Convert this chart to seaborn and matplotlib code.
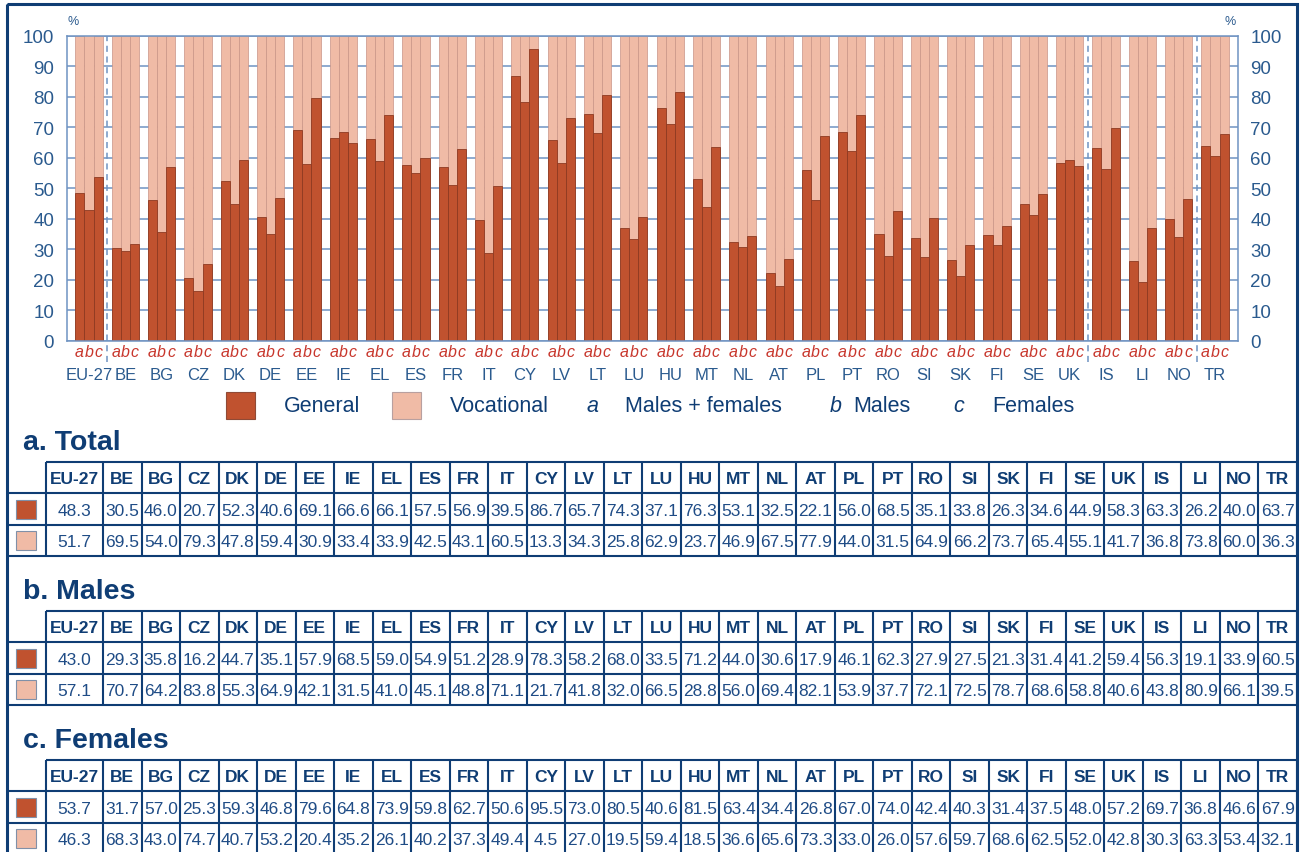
import matplotlib
matplotlib.use("Agg")
import matplotlib.pyplot as plt
import matplotlib.font_manager as fm
from matplotlib.patches import Rectangle
import seaborn as sns
import pandas as pd

countries = ["EU-27", "BE", "BG", "CZ", "DK", "DE", "EE", "IE", "EL", "ES", "FR", "IT",
             "CY", "LV", "LT", "LU", "HU", "MT", "NL", "AT", "PL", "PT", "RO", "SI",
             "SK", "FI", "SE", "UK", "IS", "LI", "NO", "TR"]

general_total = [48.3, 30.5, 46.0, 20.7, 52.3, 40.6, 69.1, 66.6, 66.1, 57.5, 56.9, 39.5,
                 86.7, 65.7, 74.3, 37.1, 76.3, 53.1, 32.5, 22.1, 56.0, 68.5, 35.1, 33.8,
                 26.3, 34.6, 44.9, 58.3, 63.3, 26.2, 40.0, 63.7]
vocational_total = [51.7, 69.5, 54.0, 79.3, 47.8, 59.4, 30.9, 33.4, 33.9, 42.5, 43.1, 60.5,
                    13.3, 34.3, 25.8, 62.9, 23.7, 46.9, 67.5, 77.9, 44.0, 31.5, 64.9, 66.2,
                    73.7, 65.4, 55.1, 41.7, 36.8, 73.8, 60.0, 36.3]

general_males = [43.0, 29.3, 35.8, 16.2, 44.7, 35.1, 57.9, 68.5, 59.0, 54.9, 51.2, 28.9,
                 78.3, 58.2, 68.0, 33.5, 71.2, 44.0, 30.6, 17.9, 46.1, 62.3, 27.9, 27.5,
                 21.3, 31.4, 41.2, 59.4, 56.3, 19.1, 33.9, 60.5]
vocational_males = [57.1, 70.7, 64.2, 83.8, 55.3, 64.9, 42.1, 31.5, 41.0, 45.1, 48.8, 71.1,
                    21.7, 41.8, 32.0, 66.5, 28.8, 56.0, 69.4, 82.1, 53.9, 37.7, 72.1, 72.5,
                    78.7, 68.6, 58.8, 40.6, 43.8, 80.9, 66.1, 39.5]

general_females = [53.7, 31.7, 57.0, 25.3, 59.3, 46.8, 79.6, 64.8, 73.9, 59.8, 62.7, 50.6,
                   95.5, 73.0, 80.5, 40.6, 81.5, 63.4, 34.4, 26.8, 67.0, 74.0, 42.4, 40.3,
                   31.4, 37.5, 48.0, 57.2, 69.7, 36.8, 46.6, 67.9]
vocational_females = [46.3, 68.3, 43.0, 74.7, 40.7, 53.2, 20.4, 35.2, 26.1, 40.2, 37.3, 49.4,
                      4.5, 27.0, 19.5, 59.4, 18.5, 36.6, 65.6, 73.3, 33.0, 26.0, 57.6, 59.7,
                      68.6, 62.5, 52.0, 42.8, 30.3, 63.3, 53.4, 32.1]

group_letters = ["a", "b", "c"]
group_names = ["Males + females", "Males", "Females"]
table_titles = ["a. Total", "b. Males", "c. Females"]
series_names = ["General", "Vocational"]
separators_after = ["EU-27", "UK", "NO"]

DARK = "#C0522F"
LIGHT = "#F0BBA6"
NAVY = "#0F3D74"
TXT = "#2A5A8E"
VAL = "#1F4C86"
GRID = "#6F93C2"
RED = "#C8372D"


def pick_font(*names):
    for name in names:
        try:
            fm.findfont(fm.FontProperties(family=name), fallback_to_default=False)
            return name
        except ValueError:
            continue
    return "DejaVu Sans"


NARROW = pick_font("Liberation Sans Narrow", "Liberation Sans")
SANS = pick_font("Liberation Sans", "Arial")

# long table for seaborn: one row per country and group
rows = []
for letter, gen, voc in zip(group_letters,
                            [general_total, general_males, general_females],
                            [vocational_total, vocational_males, vocational_females]):
    for c, g, v in zip(countries, gen, voc):
        rows.append({"country": c, "group": letter, "general": g, "total": g + v})
df = pd.DataFrame(rows)

sns.set_theme(style="white")
plt.rcParams["font.family"] = [NARROW, "DejaVu Sans"]

W, H = 1301, 853
fig = plt.figure(figsize=(W / 100, H / 100), dpi=100)
ax = fig.add_axes([66.7 / W, 1 - 341.7 / H, (1237.7 - 66.7) / W, (341.7 - 36.7) / H])

common = dict(data=df, x="country", hue="group", order=countries, hue_order=group_letters,
              width=0.75, saturation=1, errorbar=None, legend=False, ax=ax)
sns.barplot(y="total", palette={k: LIGHT for k in group_letters},
            edgecolor="#C99486", linewidth=0.5, **common)
sns.barplot(y="general", palette={k: DARK for k in group_letters},
            edgecolor="#8E3A22", linewidth=0.6, **common)

ax.set_xlim(-0.614, len(countries) - 1 + 0.625)
ax.set_ylim(0, 100)
ax.set_yticks(range(0, 101, 10))
ax.set_xlabel("")
ax.set_ylabel("")
ax.yaxis.grid(True, color=GRID, lw=1.1)
ax.set_axisbelow(True)
for s in ax.spines.values():
    s.set_color(GRID)
    s.set_linewidth(1.1)
ax.tick_params(axis="y", length=0, labelsize=13.5, labelcolor=TXT, pad=9,
               labelright=True)
ax.tick_params(axis="x", length=0, labelsize=12, labelcolor=TXT, pad=19)

trans = ax.get_xaxis_transform()
offsets = [-0.26, 0.0, 0.26]
for i in range(len(countries)):
    for off, letter in zip(offsets, group_letters):
        ax.text(i + off, -0.036, letter, transform=trans, ha="center", va="center",
                color=RED, style="italic", fontsize=11.5, clip_on=False)

for c in separators_after:
    ax.axvline(countries.index(c) + 0.5, ymin=-0.07, ymax=1, color=GRID,
               ls=(0, (4, 3)), lw=1.1, clip_on=False)

fig.text(73 / W, 1 - 22 / H, "%", color=TXT, fontsize=9, ha="center", va="center")
fig.text(1230 / W, 1 - 22 / H, "%", color=TXT, fontsize=9, ha="center", va="center")

# overlay in pixel coordinates for the frame, legend and tables
ov = fig.add_axes([0, 0, 1, 1])
ov.set_xlim(0, W)
ov.set_ylim(H, 0)
ov.axis("off")

ov.add_patch(Rectangle((7, 5), 1290, 870, fill=False, ec=NAVY, lw=2.2, clip_on=False))

# legend
ly = 406
lfs = 15.5
ov.add_patch(Rectangle((226, 393), 29, 27, fc=DARK, ec="#8F4A36", lw=0.8))
ov.text(284, ly, series_names[0], color=NAVY, fontsize=lfs, family=SANS, va="center")
ov.add_patch(Rectangle((392, 393), 29, 27, fc=LIGHT, ec="#B8A0A0", lw=0.8))
ov.text(450, ly, series_names[1], color=NAVY, fontsize=lfs, family=SANS, va="center")
for lx, nx, letter, name in zip([587, 830, 953], [625, 853, 992], group_letters, group_names):
    ov.text(lx, ly, letter, color=NAVY, fontsize=lfs, family=SANS, style="italic", va="center")
    ov.text(nx, ly, name, color=NAVY, fontsize=lfs, family=SANS, va="center")

# tables
left_frame, sw_right, eu_right, right_edge = 7, 46, 103, 1297
col_w = (right_edge - eu_right) / (len(countries) - 1)
edges = [sw_right, eu_right] + [eu_right + col_w * k for k in range(1, len(countries))]
centers = [(a + b) / 2 for a, b in zip(edges[:-1], edges[1:])]
tops = [463, 612, 761]
rh = 31.4
tlw = 1.5

for title, top, gen, voc in zip(table_titles, tops,
                                [general_total, general_males, general_females],
                                [vocational_total, vocational_males, vocational_females]):
    ov.text(23, top - 20, title, color=NAVY, fontsize=20.5, fontweight="bold",
            family=SANS, va="center")
    ov.plot([sw_right, right_edge], [top, top], color=NAVY, lw=tlw, solid_capstyle="butt")
    for k in range(1, 4):
        ov.plot([left_frame, right_edge], [top + k * rh] * 2, color=NAVY, lw=tlw,
                solid_capstyle="butt")
    for x in edges:
        ov.plot([x, x], [top, top + 3 * rh], color=NAVY, lw=tlw, solid_capstyle="butt")
    for cx, c in zip(centers, countries):
        ov.text(cx, top + rh / 2 + 1, c, color=NAVY, fontsize=12.5, fontweight="bold",
                ha="center", va="center")
    for r, (vals, col) in enumerate([(gen, DARK), (voc, LIGHT)], start=1):
        yc = top + rh * r + rh / 2
        ov.add_patch(Rectangle((16, yc - 9.5), 20, 19, fc=col, ec="#8090A8", lw=0.8))
        for cx, v in zip(centers, vals):
            ov.text(cx, yc + 1, f"{v:.1f}", color=VAL, fontsize=12.5,
                    ha="center", va="center")

fig.savefig("out.png", dpi=100)
